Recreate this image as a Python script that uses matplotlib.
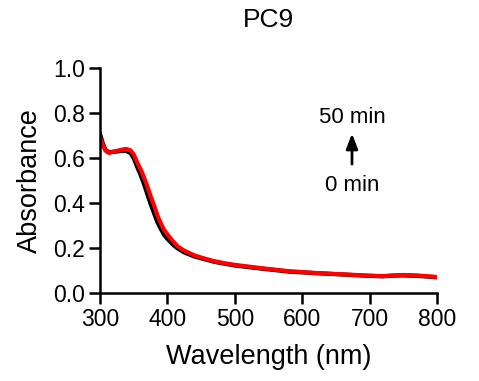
import matplotlib.pyplot as plt

plt.rcParams['font.family'] = ['Liberation Sans', 'DejaVu Sans']

# spectra (nm, absorbance)
wl = [300, 304, 308, 313, 320, 330, 338, 345, 350, 355, 360, 365, 370, 375, 380,
      385, 390, 395, 400, 408, 415, 425, 440, 455, 470, 485, 500, 540, 580, 620,
      660, 700, 720, 735, 750, 770, 800]
abs_0min = [0.705, 0.665, 0.636, 0.625, 0.627, 0.630, 0.632, 0.622, 0.598, 0.560, 0.525, 0.485, 0.440, 0.395, 0.355,
            0.315, 0.285, 0.258, 0.240, 0.215, 0.198, 0.180, 0.162, 0.150, 0.138, 0.130, 0.122, 0.108, 0.095, 0.088,
            0.082, 0.076, 0.074, 0.077, 0.078, 0.076, 0.070]
abs_50min = [0.690, 0.655, 0.632, 0.622, 0.628, 0.635, 0.640, 0.634, 0.615, 0.580, 0.550, 0.515, 0.474, 0.430, 0.390,
             0.345, 0.310, 0.280, 0.260, 0.230, 0.207, 0.188, 0.167, 0.153, 0.141, 0.132, 0.125, 0.110, 0.097, 0.089,
             0.083, 0.077, 0.075, 0.078, 0.080, 0.078, 0.071]

fig = plt.figure(figsize=(4.79, 3.81), dpi=100)
ax = fig.add_axes([0.209, 0.231, 0.703, 0.591])

ax.plot(wl, abs_0min, color='black', lw=3)
ax.plot(wl, abs_50min, color='#ff0000', lw=3)

ax.set_xlim(300, 800)
ax.set_ylim(0, 1.0)
ax.set_xticks([300, 400, 500, 600, 700, 800])
ax.set_yticks([0.0, 0.2, 0.4, 0.6, 0.8, 1.0])
ax.set_yticklabels(['0.0', '0.2', '0.4', '0.6', '0.8', '1.0'])

for s in ['top', 'right']:
    ax.spines[s].set_visible(False)
for s in ['left', 'bottom']:
    ax.spines[s].set_linewidth(1.8)
ax.tick_params(width=1.8, length=8, labelsize=16.5, pad=3)

ax.set_xlabel('Wavelength (nm)', fontsize=19.5, labelpad=9)
ax.set_ylabel('Absorbance', fontsize=19.5, labelpad=7)
fig.text(0.561, 0.948, 'PC9', fontsize=19, ha='center', va='center')

ax.text(674, 0.78, '50 min', fontsize=16, ha='center', va='center')
ax.text(674, 0.477, '0 min', fontsize=16, ha='center', va='center')
ax.annotate('', xy=(674, 0.72), xytext=(674, 0.56),
            arrowprops=dict(arrowstyle='-|>,head_length=0.9,head_width=0.35', color='black', lw=2))

fig.savefig('out.png', dpi=100)
